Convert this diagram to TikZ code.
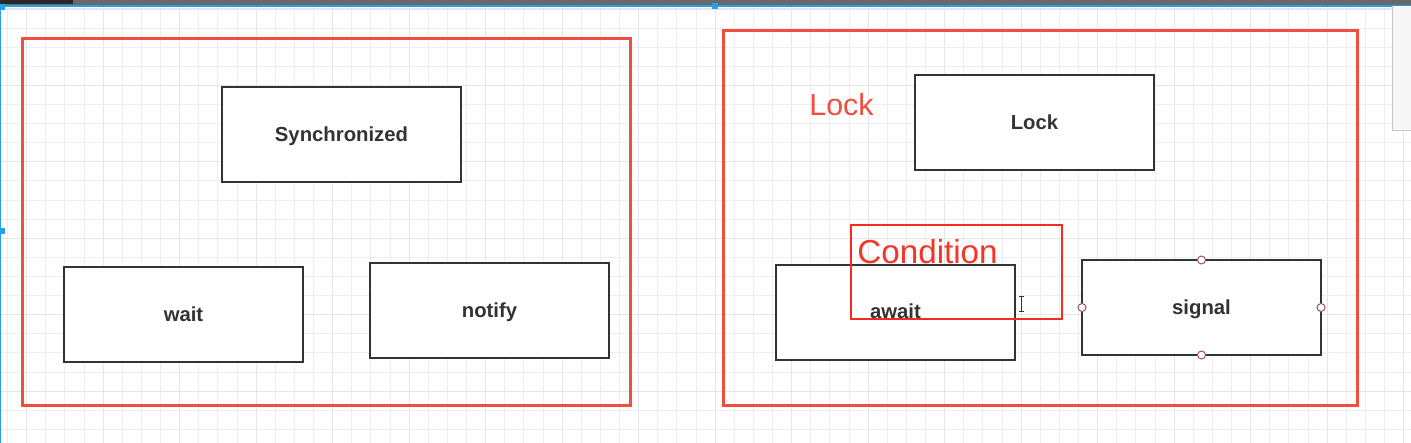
\documentclass[tikz,border=0pt]{standalone}
\usepackage{fontspec}
\setmainfont{Liberation Sans}
\definecolor{frame}{RGB}{240,78,62}
\definecolor{condred}{RGB}{248,42,30}
\definecolor{boxline}{RGB}{51,51,51}
\definecolor{gridminor}{RGB}{238,238,241}
\definecolor{gridmajor}{RGB}{229,229,233}
\definecolor{selblue}{RGB}{40,160,230}
\definecolor{handle}{RGB}{160,80,100}
\definecolor{topbar}{RGB}{105,105,105}
\definecolor{topdark}{RGB}{40,40,40}
\begin{document}
\begin{tikzpicture}[x=0.5pt,y=-0.5pt,
  box/.style={draw=boxline, line width=1.15pt, fill=white, minimum width=119.5pt, minimum height=47.5pt, inner sep=0pt, outer sep=0pt},
  lbl/.style={font=\fontsize{10.15}{12}\selectfont\bfseries, text=boxline, anchor=base, inner sep=0pt},
  redframe/.style={draw=frame, line width=1.5pt},
  condframe/.style={draw=condred, line width=1pt},
  redtxt/.style={text=frame, anchor=base west, inner sep=0pt},
  gridmin/.style={draw=gridminor, line width=0.5pt},
  gridmaj/.style={draw=gridmajor, line width=0.6pt},
  hdl/.style={circle, draw=handle, fill=white, line width=0.5pt, minimum size=4pt, inner sep=0pt},
  selh/.style={fill=selblue, minimum size=3pt, inner sep=0pt}]
\useasboundingbox (0,0) rectangle (1411,443);
\fill[white] (0,0) rectangle (1411,443);
% grid
\foreach \k in {0,...,73}{
  \pgfmathsetmacro{\xx}{7.5+19.125*\k}
  \pgfmathtruncatemacro{\mm}{mod(\k-1+400,4)}
  \ifnum\mm=0
    \draw[gridmaj] (\xx,6) -- (\xx,443);
  \else
    \draw[gridmin] (\xx,6) -- (\xx,443);
  \fi
}
\foreach \k in {0,...,23}{
  \pgfmathsetmacro{\yy}{9.1+19.1*\k}
  \pgfmathtruncatemacro{\mm}{mod(\k,4)}
  \ifnum\mm=0
    \draw[gridmaj] (0,\yy) -- (1411,\yy);
  \else
    \draw[gridmin] (0,\yy) -- (1411,\yy);
  \fi
}
% top bar and selection
\fill[topbar] (0,0) rectangle (1411,5);
\fill[topdark] (0,0) rectangle (73,4);
\draw[selblue, line width=0.6pt] (0.6,443) -- (0.6,6) -- (1411,6);
\node[selh] (h1) at (2,7) {};
\node[selh] (h2) at (715,6) {};
\node[selh] (h3) at (1.5,231) {};
% right tool panel
\fill[white!97!black] (1392.5,6.5) rectangle (1411,131);
\draw[white!78!black, line width=0.5pt] (1392.5,6.5) -- (1392.5,131) -- (1411,131);
% red frames
\draw[redframe] (22,39) rectangle (630,405);
\draw[redframe] (723,31) rectangle (1357,405);
% boxes
\node[box] (sync) at (341.5,134.5) {};
\node[lbl] at ([yshift=-3.6pt]sync.center) {Synchronized};
\node[box] (wait) at (183.5,314.5) {};
\node[lbl] at ([yshift=-3.6pt]wait.center) {wait};
\node[box] (notify) at (489.5,310.5) {};
\node[lbl] at ([yshift=-3.6pt]notify.center) {notify};
\node[box] (lock) at (1034.5,122.5) {};
\node[lbl] at ([yshift=-3.6pt]lock.center) {Lock};
\node[box] (await) at (895.5,312.5) {};
\node[lbl] at ([yshift=-3pt]await.center) {await};
\node[box] (signal) at (1201.5,307.5) {};
\node[lbl] at ([yshift=-3.6pt]signal.center) {signal};
% selection handles on signal
\node[hdl] at (signal.north) {};
\node[hdl] at (signal.south) {};
\node[hdl] at (signal.west) {};
\node[hdl] at (signal.east) {};
% red labels
\node[redtxt, font=\fontsize{15.2}{18}\selectfont] (locklbl) at (809,116) {Lock};
\draw[condframe] (851,224.5) rectangle (1062,318.5);
\node[redtxt, font=\fontsize{16.6}{20}\selectfont, text=condred!70!frame] (condlbl) at (857,263) {Condition};
% text cursor
\draw[white, line width=1.2pt] (1021,296) -- (1021,311);
\draw[boxline, line width=0.45pt] (1018.5,296) -- (1023.5,296) (1021,296) -- (1021,311) (1018.5,311) -- (1023.5,311);
\end{tikzpicture}
\end{document}
